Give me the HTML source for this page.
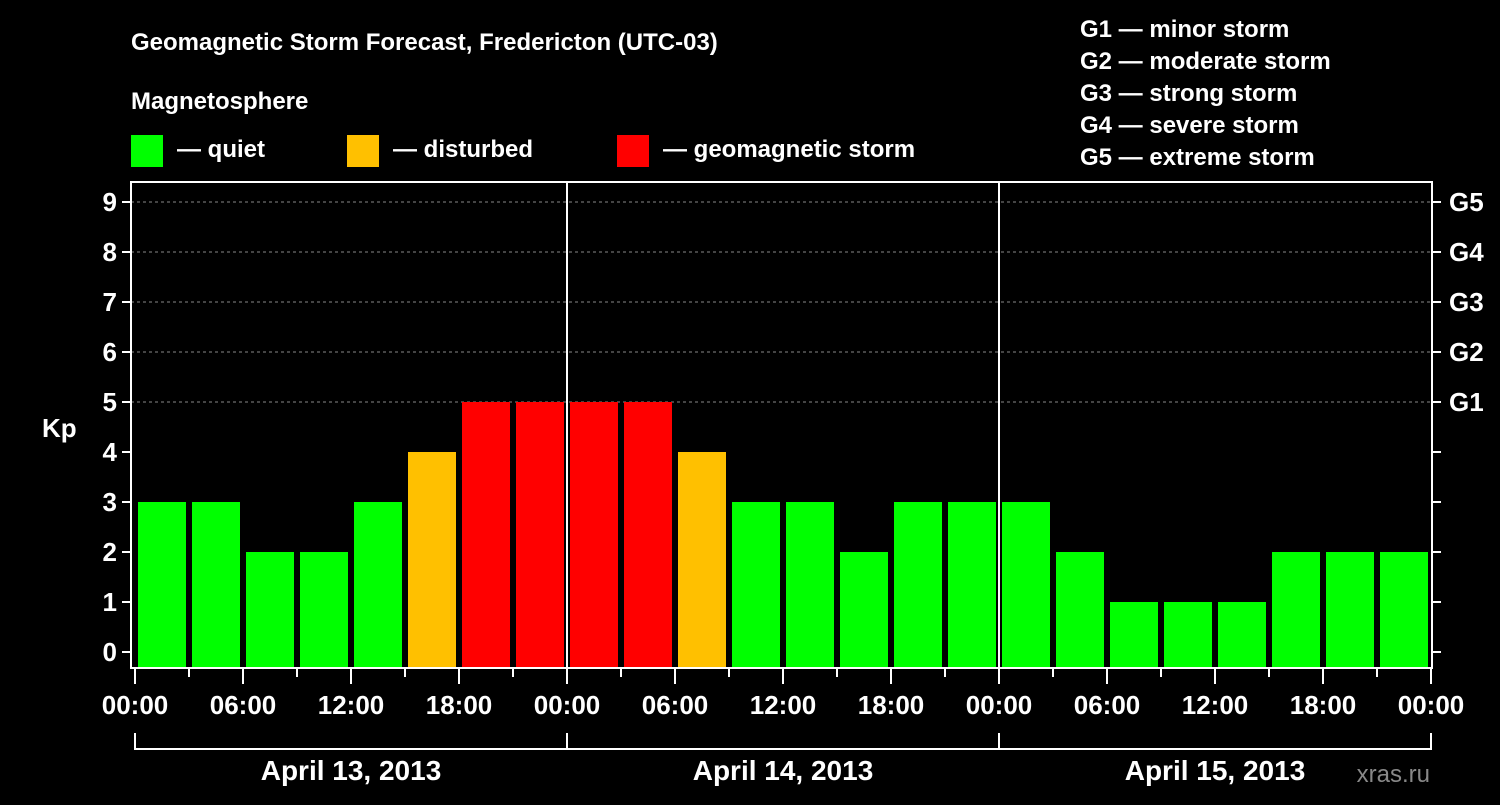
<!DOCTYPE html>
<html><head><meta charset="utf-8"><style>
body{margin:0;background:#000;width:1500px;height:800px;overflow:hidden;font-family:"Liberation Sans",sans-serif}
svg text{font-family:"Liberation Sans",sans-serif;font-weight:bold;fill:#fff}
</style></head><body>
<svg id="c" width="1500" height="800" xmlns="http://www.w3.org/2000/svg">
<text x="131" y="50" font-size="24">Geomagnetic Storm Forecast, Fredericton (UTC-03)</text>
<text x="131" y="109" font-size="24">Magnetosphere</text>
<g><rect x="131" y="135" width="32" height="32" fill="#00ff00"/><text x="177" y="157" font-size="24">— quiet</text></g>
<g><rect x="347" y="135" width="32" height="32" fill="#ffc000"/><text x="393" y="157" font-size="24">— disturbed</text></g>
<g><rect x="617" y="135" width="32" height="32" fill="#ff0000"/><text x="663" y="157" font-size="24">— geomagnetic storm</text></g>
<g font-size="24">
<text x="1080" y="37">G1 — minor storm</text><text x="1080" y="69">G2 — moderate storm</text><text x="1080" y="101">G3 — strong storm</text><text x="1080" y="133">G4 — severe storm</text><text x="1080" y="165">G5 — extreme storm</text></g>
<text x="42" y="437" font-size="26">Kp</text>
<text x="1430" y="782" font-size="24" fill="#888" style="fill:#888;font-weight:normal" text-anchor="end">xras.ru</text>
<g id="grid"></g><g id="bars"></g><g id="axes"></g>
</svg>
<script>
const kpValues=[3,3,2,2,3,4,5,5,5,5,4,3,3,2,3,3,3,2,1,1,1,2,2,2];
const yTicks=[0,1,2,3,4,5,6,7,8,9];
const gLabels=["G1","G2","G3","G4","G5"];
const xTickLabels=["00:00","06:00","12:00","18:00","00:00","06:00","12:00","18:00","00:00","06:00","12:00","18:00","00:00"];
const dayLabels=["April 13, 2013","April 14, 2013","April 15, 2013"];
const NS="http://www.w3.org/2000/svg";
const L=131,R=1432,T=182,B=668;
const y=v=>652-50*v;
const x=h=>135+18*h;
function mk(tag,attrs,parent){const e=document.createElementNS(NS,tag);for(const k in attrs)e.setAttribute(k,attrs[k]);parent.appendChild(e);return e;}
const grid=document.getElementById('grid'),bars=document.getElementById('bars'),axes=document.getElementById('axes');
yTicks.forEach(v=>{
 if(v>=5){const g=mk('line',{x1:L,x2:R,y1:y(v),y2:y(v),stroke:'#888','stroke-dasharray':'3,3','stroke-width':1},grid);
 
 }
 mk('line',{x1:L-9,x2:L,y1:y(v),y2:y(v),stroke:'#fff','stroke-width':2},axes);
 mk('line',{x1:R,x2:R+9,y1:y(v),y2:y(v),stroke:'#fff','stroke-width':2},axes);
 const t=mk('text',{x:L-14,y:y(v)+9,'font-size':26,'text-anchor':'end'},axes);t.textContent=v;
 
 
 if(v>=5){const g=mk('text',{x:R+17,y:y(v)+9,'font-size':26},axes);g.textContent=gLabels[v-5];
 
 }
});
kpValues.forEach((v,i)=>{
 const c=v>=5?'#ff0000':(v>=4?'#ffc000':'#00ff00');
 const r=mk('rect',{x:x(3*i)+3,width:48,y:y(v),height:B-y(v),fill:c},bars);
 
 
});
mk('rect',{x:L,y:T,width:R-L,height:B-T,fill:'none',stroke:'#fff','stroke-width':2},axes);
[24,48].forEach(h=>mk('line',{x1:x(h),x2:x(h),y1:T,y2:B,stroke:'#fff','stroke-width':2},axes));
for(let h=0;h<=72;h+=3){const major=h%6===0;
 mk('line',{x1:x(h),x2:x(h),y1:B,y2:B+(major?16:9),stroke:'#fff','stroke-width':2},axes);}
xTickLabels.forEach((s,i)=>{const t=mk('text',{x:x(6*i),y:714,'font-size':26,'text-anchor':'middle'},axes);t.textContent=s;
 
 });
mk('line',{x1:x(0),x2:x(72),y1:749,y2:749,stroke:'#fff','stroke-width':2},axes);
[0,24,48,72].forEach(h=>mk('line',{x1:x(h),x2:x(h),y1:733,y2:750,stroke:'#fff','stroke-width':2},axes));
dayLabels.forEach((s,i)=>{const t=mk('text',{x:x(24*i+12),y:780,'font-size':28,'text-anchor':'middle'},axes);t.textContent=s;
 
 });
</script>
</body></html>
